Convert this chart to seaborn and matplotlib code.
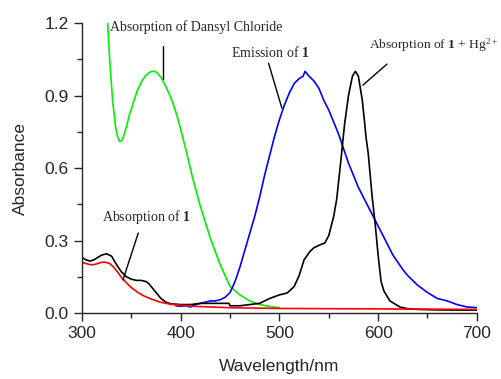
import matplotlib
matplotlib.use("Agg")
import matplotlib.pyplot as plt
import seaborn as sns
import pandas as pd

# ---- data ----
dansyl_x = [326, 328, 331, 334, 336, 338, 340, 342, 345, 348, 352, 356, 360, 364, 368, 371, 374, 377, 380, 384, 388, 392, 396, 400, 405, 412, 420, 430, 440, 450, 460, 470, 480, 490, 500]
dansyl_y = [1.20, 1.05, 0.88, 0.77, 0.73, 0.71, 0.712, 0.73, 0.77, 0.82, 0.87, 0.92, 0.955, 0.98, 0.995, 1.00, 1.00, 0.99, 0.975, 0.945, 0.91, 0.87, 0.82, 0.76, 0.68, 0.56, 0.44, 0.31, 0.20, 0.11, 0.075, 0.05, 0.035, 0.027, 0.022]

emis_x = [395, 400, 405, 410, 415, 420, 425, 430, 435, 440, 445, 450, 455, 460, 465, 470, 475, 480, 485, 490, 495, 500, 505, 510, 515, 520, 524, 526, 530, 535, 540, 545, 550, 555, 560, 565, 570, 575, 580, 585, 590, 595, 600, 605, 610, 615, 620, 625, 630, 640, 650, 660, 670, 680, 690, 700]
emis_y = [0.03, 0.028, 0.03, 0.025, 0.035, 0.04, 0.045, 0.05, 0.05, 0.055, 0.065, 0.085, 0.13, 0.19, 0.26, 0.33, 0.40, 0.48, 0.57, 0.65, 0.73, 0.80, 0.86, 0.91, 0.95, 0.97, 0.98, 1.00, 0.98, 0.96, 0.93, 0.88, 0.84, 0.79, 0.74, 0.68, 0.62, 0.57, 0.52, 0.48, 0.44, 0.40, 0.36, 0.32, 0.28, 0.24, 0.21, 0.18, 0.155, 0.115, 0.085, 0.06, 0.05, 0.035, 0.025, 0.022]

hg_x = [300, 304, 308, 312, 316, 320, 325, 330, 335, 340, 345, 350, 355, 360, 365, 368, 372, 376, 380, 385, 390, 400, 410, 420, 430, 440, 449, 450, 460, 470, 480, 490, 500, 508, 515, 520, 525, 531, 535, 540, 546, 550, 555, 558, 562, 566, 570, 574, 577, 580, 584, 588, 590, 594, 597, 600, 603, 606, 612, 622, 630, 640, 660, 680, 700]
hg_y = [0.23, 0.22, 0.215, 0.22, 0.23, 0.24, 0.245, 0.235, 0.20, 0.17, 0.15, 0.14, 0.135, 0.135, 0.13, 0.12, 0.10, 0.08, 0.06, 0.045, 0.038, 0.035, 0.035, 0.04, 0.04, 0.04, 0.04, 0.03, 0.03, 0.035, 0.04, 0.06, 0.075, 0.083, 0.11, 0.155, 0.22, 0.255, 0.27, 0.28, 0.29, 0.32, 0.40, 0.47, 0.62, 0.78, 0.90, 0.98, 1.00, 0.98, 0.88, 0.72, 0.66, 0.48, 0.37, 0.24, 0.13, 0.09, 0.05, 0.025, 0.018, 0.015, 0.013, 0.012, 0.012]

abs1_x = [300, 304, 308, 312, 316, 320, 324, 328, 332, 336, 340, 345, 350, 356, 362, 370, 379, 390, 400, 412, 430, 450, 480, 500, 550, 600, 650, 700]
abs1_y = [0.21, 0.205, 0.2, 0.2, 0.205, 0.21, 0.21, 0.205, 0.19, 0.17, 0.147, 0.125, 0.105, 0.087, 0.072, 0.058, 0.045, 0.036, 0.032, 0.028, 0.025, 0.022, 0.02, 0.019, 0.018, 0.017, 0.016, 0.015]

x_ticks = [300, 400, 500, 600, 700]
y_ticks = [0.0, 0.3, 0.6, 0.9, 1.2]
y_tick_labels = ["0.0", "0.3", "0.6", "0.9", "1.2"]

# ---- style ----
sns.set_style("ticks")
plt.rcParams["font.family"] = ["Liberation Sans", "DejaVu Sans"]
plt.rcParams["mathtext.fontset"] = "custom"
plt.rcParams["mathtext.rm"] = "Liberation Serif"
plt.rcParams["mathtext.bf"] = "Liberation Serif:bold"
plt.rcParams["mathtext.it"] = "Liberation Serif:italic"

fig = plt.figure(figsize=(5.01, 3.79), dpi=100)
ax = fig.add_axes([0.1637, 0.1741, 0.788, 0.7652])

lw = 1.2
sns.lineplot(x=dansyl_x, y=dansyl_y, ax=ax, color="#00f000", lw=lw, sort=False)
sns.lineplot(x=emis_x, y=emis_y, ax=ax, color="#0000ff", lw=lw, sort=False)
sns.lineplot(x=hg_x, y=hg_y, ax=ax, color="black", lw=lw, sort=False)
sns.lineplot(x=abs1_x, y=abs1_y, ax=ax, color="#ff0000", lw=lw, sort=False)

ax.set_xlim(300, 700)
ax.set_ylim(0, 1.2)
ax.set_xticks(x_ticks)
ax.set_yticks(y_ticks)
ax.set_yticklabels(y_tick_labels)
ax.set_xticks([350, 450, 550, 650], minor=True)
ax.set_yticks([0.15, 0.45, 0.75, 1.05], minor=True)
ax.tick_params(which="major", direction="out", length=6, width=1, labelsize=12.5)
ax.tick_params(which="minor", direction="out", length=3.5, width=1)
sns.despine(ax=ax)
for s in ["left", "bottom"]:
    ax.spines[s].set_linewidth(1.0)

ax.set_xlabel("Wavelength/nm", fontsize=12.5, labelpad=13)
ax.set_ylabel("Absorbance", fontsize=12.5, labelpad=12)

tfs = 10
ser = "Liberation Serif"
ax.text(328, 1.183, "Absorption of Dansyl Chloride", fontsize=tfs, family=ser, va="center", ha="left", clip_on=False)
ax.plot([382, 382], [1.105, 0.968], color="black", lw=1)

ax.text(491, 1.08, r"Emission of $\mathbf{1}$", fontsize=tfs, family=ser, va="center", ha="center")
ax.plot([489, 502.5], [1.034, 0.848], color="black", lw=1)

ax.text(656, 1.109, r"Absorption of $\mathbf{1}$ + Hg$^{2+}$", fontsize=9.7, family=ser, va="center", ha="center", clip_on=False)
ax.plot([609, 584.6], [1.03, 0.943], color="black", lw=1)

ax.text(365, 0.397, r"Absorption of $\mathbf{1}$", fontsize=tfs, family=ser, va="center", ha="center")
ax.plot([357, 341.5], [0.331, 0.137], color="black", lw=1)

fig.savefig("out.png", dpi=100)
